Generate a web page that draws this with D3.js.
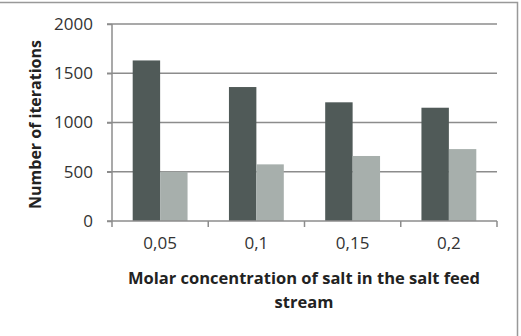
<!DOCTYPE html>
<html>
<head>
<meta charset="utf-8">
<script src="https://cdn.jsdelivr.net/npm/d3@7"></script>
<style>
  body { margin: 0; background: #fff; }
  svg { display: block; font-family: "Open Sans", sans-serif; }
</style>
</head>
<body>
<svg id="chart" width="521" height="336"></svg>
<script>
// --- Data ---
const categories = ["0,05", "0,1", "0,15", "0,2"];
const seriesA = [1630, 1360, 1205, 1150];   // dark bars
const seriesB = [500, 575, 660, 730];       // light bars
const yTicks = [0, 500, 1000, 1500, 2000];

const COLORS = { dark: "#505a58", light: "#a7afac", grid: "#8c8c8c", text: "#333" };

const svg = d3.select("#chart");
const margin = { left: 112, right: 24, top: 24, bottom: 115 };
const W = 521, H = 336;

// outer frame (cropped: only top and right visible)
svg.append("path")
  .attr("d", `M0,2.5H${W - 3.5}V${H}`)
  .attr("fill", "none").attr("stroke", "#999").attr("stroke-width", 1.5);

const x = d3.scaleBand().domain(categories).range([margin.left, W - margin.right]);
const y = d3.scaleLinear().domain([0, 2000]).range([H - margin.bottom, margin.top]);

// gridlines
svg.append("g").selectAll("line").data(yTicks.filter(d => d > 0)).join("line")
  .attr("x1", margin.left - 5).attr("x2", W - margin.right)
  .attr("y1", d => y(d)).attr("y2", d => y(d))
  .attr("stroke", COLORS.grid).attr("stroke-width", 1.5);

// bars
const groupW = x.bandwidth() * 0.57;
const sub = d3.scaleBand().domain(["a", "b"]).range([0, groupW]);
const rows = categories.map((c, i) => ({ c, a: seriesA[i], b: seriesB[i] }));
const g = svg.append("g").selectAll("g").data(rows).join("g")
  .attr("transform", d => `translate(${x(d.c) + (x.bandwidth() - groupW) / 2},0)`);
g.append("rect").attr("x", sub("a")).attr("width", sub.bandwidth())
  .attr("y", d => y(d.a)).attr("height", d => y(0) - y(d.a)).attr("fill", COLORS.dark);
g.append("rect").attr("x", sub("b")).attr("width", sub.bandwidth())
  .attr("y", d => y(d.b)).attr("height", d => y(0) - y(d.b)).attr("fill", COLORS.light);

// y axis
const yAxis = svg.append("g").attr("transform", `translate(${margin.left},0)`)
  .call(d3.axisLeft(y).tickValues(yTicks).tickFormat(d3.format("d")).tickSize(5).tickPadding(14));
yAxis.select(".domain").attr("stroke", COLORS.grid).attr("stroke-width", 1.5).attr("d", `M0,${y(2000)}V${y(0)}`);
yAxis.selectAll(".tick line").attr("stroke", COLORS.grid).attr("stroke-width", 1.5);
yAxis.selectAll("text").attr("font-size", 17).attr("fill", COLORS.text).attr("font-family", "Open Sans");

// x axis
const xAxis = svg.append("g").attr("transform", `translate(0,${y(0)})`)
  .call(d3.axisBottom(x).tickSize(0).tickPadding(16));
xAxis.select(".domain").attr("stroke", COLORS.grid).attr("stroke-width", 1.5)
  .attr("d", `M${margin.left - 5},0H${W - margin.right}`);
xAxis.selectAll("text").attr("font-size", 17).attr("fill", COLORS.text).attr("font-family", "Open Sans");
xAxis.append("g").selectAll("line")
  .data(categories.map(c => x(c)).concat([x.range()[1]]))
  .join("line").attr("x1", d => d).attr("x2", d => d).attr("y1", 0).attr("y2", 6)
  .attr("stroke", COLORS.grid).attr("stroke-width", 1.5);

// titles
svg.append("text")
  .attr("transform", `translate(41,${(y(0) + y(2000)) / 2 + 2}) rotate(-90)`)
  .attr("text-anchor", "middle").attr("font-size", 16).attr("font-weight", "bold").attr("fill", "#222")
  .text("Number of iterations");

const xt = svg.append("text").attr("text-anchor", "middle").attr("font-size", 16.5)
  .attr("font-weight", "bold").attr("fill", "#222");
xt.append("tspan").attr("x", 304).attr("y", 284).text("Molar concentration of salt in the salt feed");
xt.append("tspan").attr("x", 304).attr("y", 308).text("stream");
</script>
</body>
</html>
